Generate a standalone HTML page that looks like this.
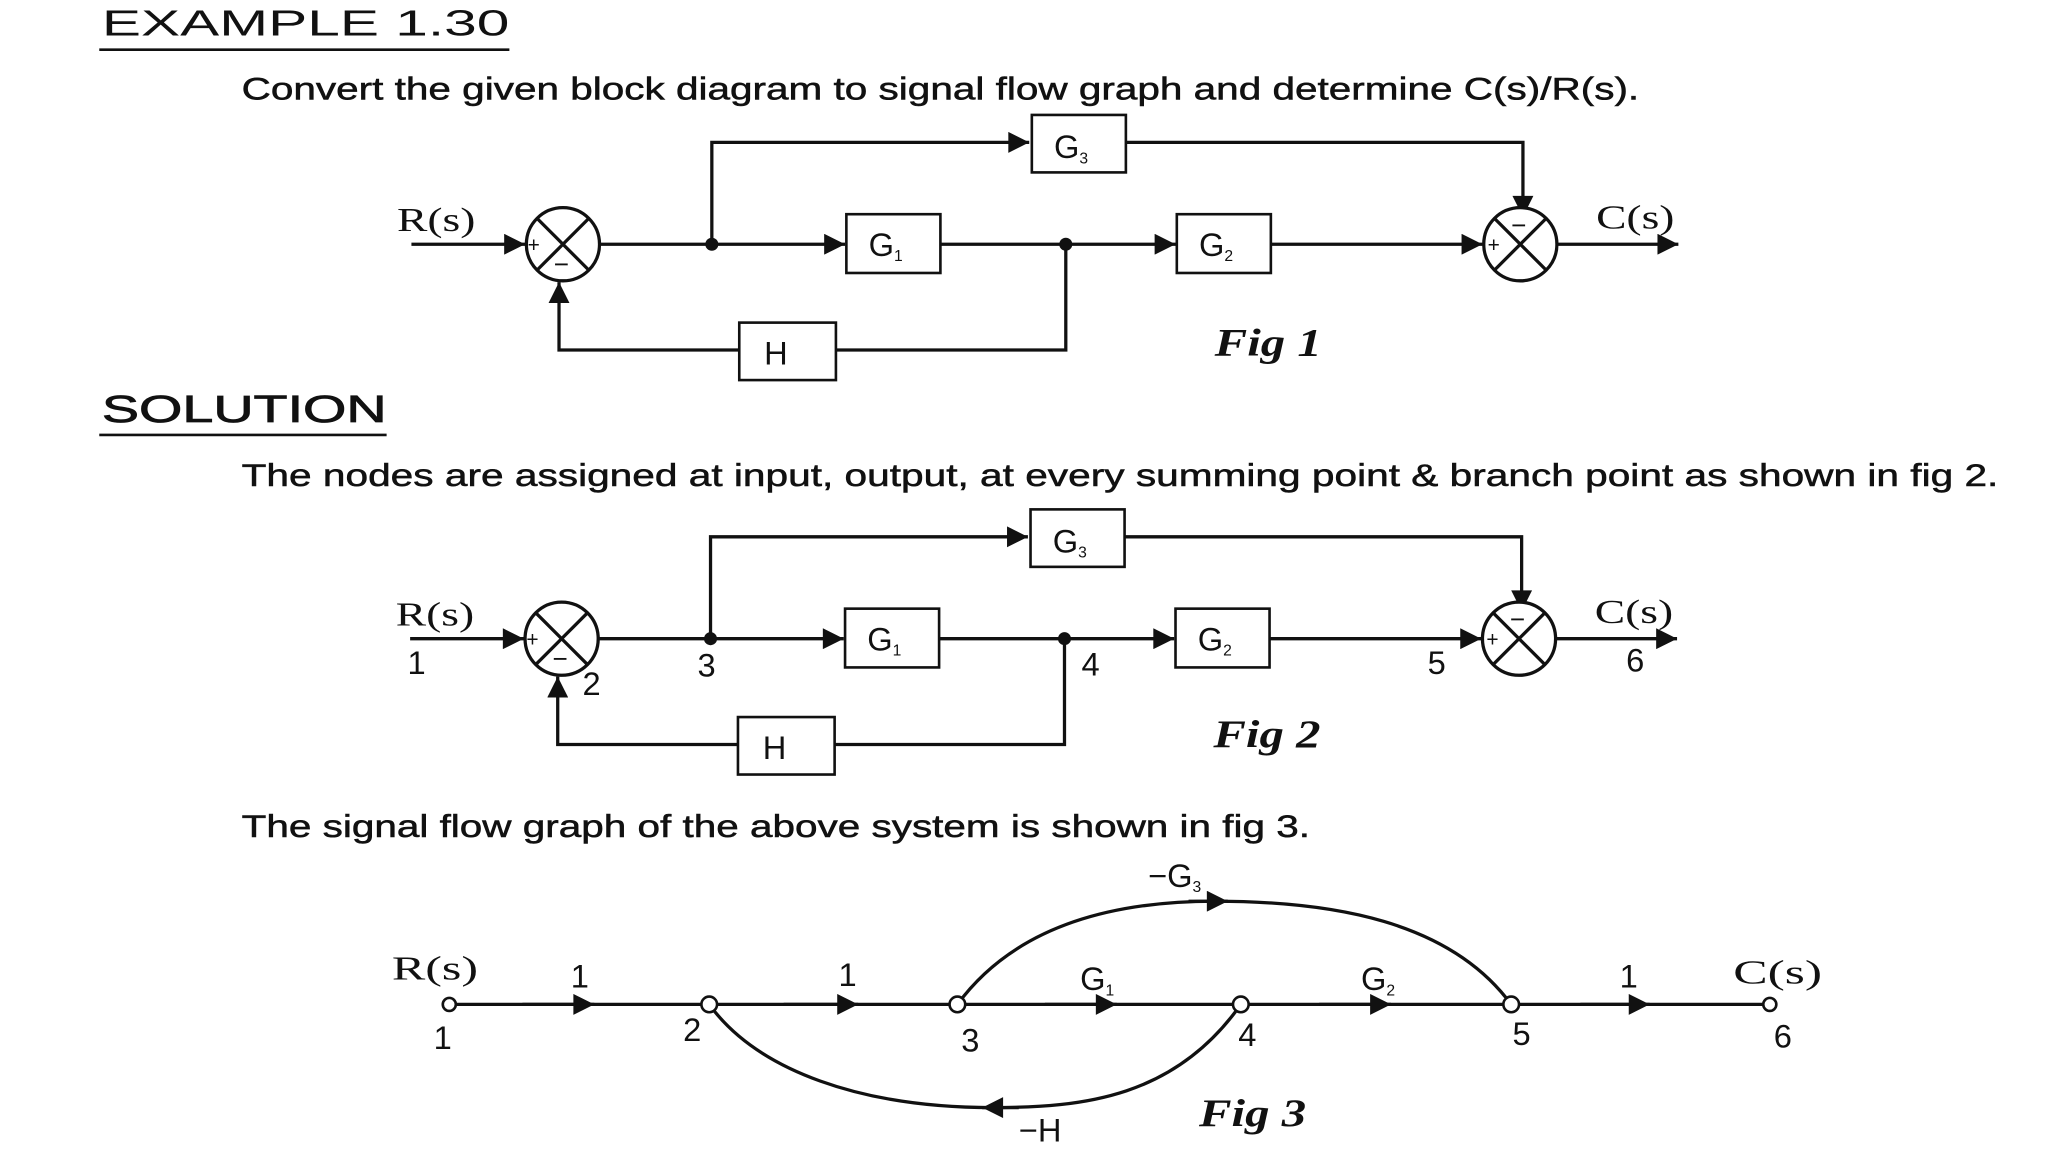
<!DOCTYPE html>
<html><head><meta charset="utf-8"><style>
html,body{margin:0;padding:0;background:#fff;}
svg{display:block;}
.s{font-family:"Liberation Sans",sans-serif;}
.r{font-family:"Liberation Serif",serif;}
</style></head><body>
<svg width="2048" height="1152" viewBox="0 0 1568 882" preserveAspectRatio="none" xmlns="http://www.w3.org/2000/svg">
<defs>
<marker id="b" viewBox="0 0 10 10" refX="10" refY="5" markerWidth="20" markerHeight="16" orient="auto" markerUnits="userSpaceOnUse"><path d="M0,0 L10,5 L0,10 z" fill="#111"/></marker>
</defs>
<rect width="1568" height="882" fill="#fff"/>
<g fill="#111">
<text x="78" y="27" class="s" font-size="28" textLength="312" lengthAdjust="spacingAndGlyphs">EXAMPLE 1.30</text>
<text x="185" y="76" class="s" font-size="24" textLength="1070" lengthAdjust="spacingAndGlyphs" stroke="#111" stroke-width="0.4">Convert the given block diagram to signal flow graph and determine C(s)/R(s).</text>
<text x="78" y="323" class="s" font-size="29" textLength="218" lengthAdjust="spacingAndGlyphs" stroke="#111" stroke-width="0.6">SOLUTION</text>
<text x="185" y="372" class="s" font-size="24" textLength="1345" lengthAdjust="spacingAndGlyphs" stroke="#111" stroke-width="0.4">The nodes are assigned at input, output, at every summing point &amp; branch point as shown in fig 2.</text>
<text x="185" y="641" class="s" font-size="24" textLength="818" lengthAdjust="spacingAndGlyphs" stroke="#111" stroke-width="0.4">The signal flow graph of the above system is shown in fig 3.</text>
</g>
<line x1="76" y1="38" x2="390" y2="38" stroke="#111" stroke-width="2"/>
<line x1="76" y1="333" x2="296" y2="333" stroke="#111" stroke-width="2"/>

<g id="bd" stroke="#111" stroke-width="2.5" fill="none">
<line x1="315" y1="187" x2="402" y2="187" marker-end="url(#b)"/>
<circle cx="431" cy="187" r="28" fill="#fff"/>
<line x1="411" y1="167" x2="451" y2="207"/><line x1="451" y1="167" x2="411" y2="207"/>
<line x1="460" y1="187" x2="647" y2="187" marker-end="url(#b)"/>
<polyline points="545,187 545,109 788,109" marker-end="url(#b)"/>
<rect x="790" y="88" width="72" height="44" fill="#fff" stroke-width="2"/>
<polyline points="862,109 1166,109 1166,166" marker-end="url(#b)"/>
<rect x="648" y="164" width="72" height="45" fill="#fff" stroke-width="2"/>
<line x1="720" y1="187" x2="900" y2="187" marker-end="url(#b)"/>
<rect x="901" y="164" width="72" height="45" fill="#fff" stroke-width="2"/>
<line x1="973" y1="187" x2="1135" y2="187" marker-end="url(#b)"/>
<circle cx="1164" cy="187" r="28" fill="#fff"/>
<line x1="1144" y1="167" x2="1184" y2="207"/><line x1="1184" y1="167" x2="1144" y2="207"/>
<line x1="1192" y1="187" x2="1285" y2="187" marker-end="url(#b)"/>
<polyline points="816,187 816,268 640,268"/>
<rect x="566" y="247" width="74" height="44" fill="#fff" stroke-width="2"/>
<polyline points="566,268 428,268 428,216" marker-end="url(#b)"/>
<circle cx="545" cy="187" r="5" fill="#111" stroke="none"/>
<circle cx="816" cy="187" r="5" fill="#111" stroke="none"/>
</g>
<g id="lb" fill="#111">
<text x="304" y="177" class="r" font-size="26" textLength="60" lengthAdjust="spacingAndGlyphs">R(s)</text>
<text x="1222" y="175" class="r" font-size="26" textLength="60" lengthAdjust="spacingAndGlyphs">C(s)</text>
<text x="807" y="121" class="s" font-size="25">G<tspan font-size="12" dy="4">3</tspan></text>
<text x="665" y="196" class="s" font-size="25">G<tspan font-size="12" dy="4">1</tspan></text>
<text x="918" y="196" class="s" font-size="25">G<tspan font-size="12" dy="4">2</tspan></text>
<text x="585" y="279" class="s" font-size="25">H</text>
<text x="404" y="193" class="s" font-size="16">+</text>
<text x="424" y="209" class="s" font-size="20">−</text>
<text x="1139" y="193" class="s" font-size="16">+</text>
<text x="1157" y="179" class="s" font-size="20">−</text>
</g>
<text x="930" y="272" class="r" font-size="30" font-style="italic" font-weight="bold" textLength="82" lengthAdjust="spacingAndGlyphs" fill="#111">Fig 1</text>
<g transform="translate(-1,302)">
<use href="#bd"/>
<use href="#lb"/>
<g fill="#111">
<text x="930" y="270" class="r" font-size="30" font-style="italic" font-weight="bold" textLength="82" lengthAdjust="spacingAndGlyphs">Fig 2</text>
<text x="313" y="214" class="s" font-size="25">1</text>
<text x="447" y="230" class="s" font-size="25">2</text>
<text x="535" y="216" class="s" font-size="25">3</text>
<text x="829" y="215" class="s" font-size="25">4</text>
<text x="1094" y="214" class="s" font-size="25">5</text>
<text x="1246" y="212" class="s" font-size="25">6</text>
</g>
</g>

<g stroke="#111" stroke-width="2.5" fill="none">
<line x1="344" y1="769" x2="1355" y2="769"/>
<line x1="400" y1="769" x2="455" y2="769" marker-end="url(#b)"/>
<line x1="600" y1="769" x2="657" y2="769" marker-end="url(#b)"/>
<line x1="800" y1="769" x2="855" y2="769" marker-end="url(#b)"/>
<line x1="1010" y1="769" x2="1065" y2="769" marker-end="url(#b)"/>
<line x1="1210" y1="769" x2="1263" y2="769" marker-end="url(#b)"/>
<path d="M733,769 C780,705 860,690 930,690 C1020,690 1110,705 1157,769"/>
<line x1="910" y1="690" x2="940" y2="690" marker-end="url(#b)"/>
<path d="M950,769 C900,840 830,848 760,848 C660,848 580,820 543,769"/>
<line x1="780" y1="848" x2="752" y2="848" marker-end="url(#b)"/>
<g fill="#fff" stroke-width="2">
<circle cx="344" cy="769" r="5"/><circle cx="543" cy="769" r="6"/><circle cx="733" cy="769" r="6"/>
<circle cx="950" cy="769" r="6"/><circle cx="1157" cy="769" r="6"/><circle cx="1355" cy="769" r="5"/>
</g>
</g>
<g fill="#111">
<text x="300" y="750" class="r" font-size="26" textLength="66" lengthAdjust="spacingAndGlyphs">R(s)</text>
<text x="1327" y="753" class="r" font-size="26" textLength="68" lengthAdjust="spacingAndGlyphs">C(s)</text>
<text x="437" y="756" class="s" font-size="25">1</text>
<text x="642" y="755" class="s" font-size="25">1</text>
<text x="1240" y="756" class="s" font-size="25">1</text>
<text x="827" y="758" class="s" font-size="25">G<tspan font-size="12" dy="4">1</tspan></text>
<text x="1042" y="758" class="s" font-size="25">G<tspan font-size="12" dy="4">2</tspan></text>
<text x="879" y="679" class="s" font-size="25">−G<tspan font-size="12" dy="4">3</tspan></text>
<text x="780" y="874" class="s" font-size="25">−H</text>
<text x="332" y="803" class="s" font-size="25">1</text>
<text x="523" y="797" class="s" font-size="25">2</text>
<text x="736" y="805" class="s" font-size="25">3</text>
<text x="948" y="801" class="s" font-size="25">4</text>
<text x="1158" y="800" class="s" font-size="25">5</text>
<text x="1358" y="802" class="s" font-size="25">6</text>
<text x="918" y="862" class="r" font-size="30" font-style="italic" font-weight="bold" textLength="82" lengthAdjust="spacingAndGlyphs">Fig 3</text>
</g>
</svg>
</body></html>
